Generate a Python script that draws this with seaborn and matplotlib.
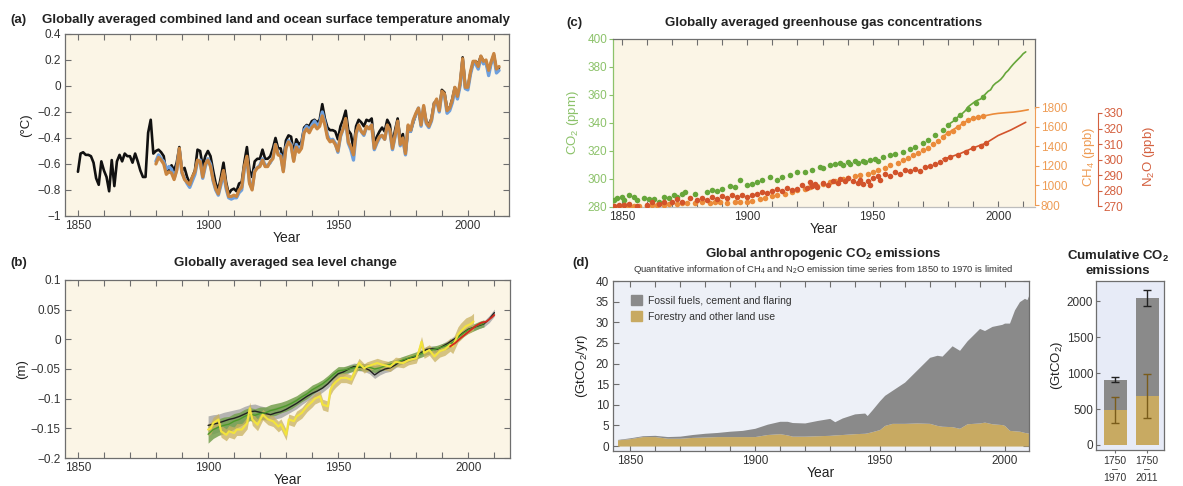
import numpy as np
import matplotlib
matplotlib.use("Agg")
import matplotlib.pyplot as plt
import seaborn as sns
from matplotlib.ticker import FixedLocator, MultipleLocator, FuncFormatter
from matplotlib.patches import Patch

sns.set_style("ticks")
plt.rcParams["font.family"] = ["Liberation Sans Narrow", "Liberation Sans", "DejaVu Sans"]
plt.rcParams["mathtext.fontset"] = "custom"
plt.rcParams["mathtext.rm"] = "Liberation Sans"
plt.rcParams["mathtext.bf"] = "Liberation Sans:bold"
plt.rcParams["axes.unicode_minus"] = True

# ---------------- (a) surface temperature anomaly (°C) ----------------
hadcrut_start, hadcrut_end = 1850, 2012
temp_hadcrut = [
    -0.66, -0.52, -0.51, -0.53, -0.53, -0.54, -0.59, -0.71, -0.76, -0.58,
    -0.65, -0.70, -0.81, -0.57, -0.77, -0.58, -0.53, -0.58, -0.52, -0.54,
    -0.54, -0.59, -0.52, -0.58, -0.65, -0.70, -0.70, -0.36, -0.26, -0.52,
    -0.50, -0.49, -0.51, -0.54, -0.67, -0.65, -0.61, -0.65, -0.59, -0.47,
    -0.65, -0.63, -0.70, -0.75, -0.70, -0.65, -0.49, -0.50, -0.62, -0.54,
    -0.50, -0.54, -0.65, -0.75, -0.80, -0.70, -0.59, -0.74, -0.83, -0.80,
    -0.79, -0.81, -0.75, -0.74, -0.59, -0.47, -0.65, -0.70, -0.58, -0.56,
    -0.56, -0.49, -0.56, -0.56, -0.54, -0.48, -0.40, -0.48, -0.48, -0.58,
    -0.42, -0.38, -0.39, -0.52, -0.41, -0.45, -0.43, -0.32, -0.30, -0.31,
    -0.27, -0.26, -0.28, -0.26, -0.14, -0.25, -0.32, -0.34, -0.34, -0.35,
    -0.41, -0.31, -0.26, -0.19, -0.34, -0.37, -0.48, -0.31, -0.26, -0.28,
    -0.31, -0.26, -0.27, -0.25, -0.44, -0.39, -0.35, -0.32, -0.35, -0.26,
    -0.30, -0.45, -0.34, -0.25, -0.41, -0.37, -0.52, -0.34, -0.35, -0.28,
    -0.22, -0.18, -0.30, -0.17, -0.27, -0.30, -0.25, -0.13, -0.12, -0.18,
    -0.03, -0.05, -0.17, -0.17, -0.10, -0.01, -0.08, 0.01, 0.22, 0.00,
    -0.01, 0.10, 0.18, 0.19, 0.17, 0.23, 0.19, 0.18, 0.10, 0.18,
    0.24, 0.12, 0.14,
]
noaa_start, noaa_end = 1880, 2012
temp_noaa = [
    -0.60, -0.55, -0.57, -0.60, -0.68, -0.66, -0.67, -0.72, -0.65, -0.48,
    -0.66, -0.72, -0.74, -0.76, -0.70, -0.66, -0.57, -0.58, -0.70, -0.60,
    -0.57, -0.62, -0.72, -0.79, -0.83, -0.74, -0.65, -0.77, -0.85, -0.85,
    -0.84, -0.85, -0.80, -0.78, -0.62, -0.54, -0.75, -0.80, -0.66, -0.63,
    -0.62, -0.57, -0.62, -0.62, -0.58, -0.56, -0.45, -0.53, -0.54, -0.66,
    -0.48, -0.43, -0.46, -0.58, -0.47, -0.51, -0.48, -0.36, -0.33, -0.36,
    -0.32, -0.30, -0.33, -0.31, -0.23, -0.30, -0.40, -0.43, -0.42, -0.45,
    -0.50, -0.38, -0.33, -0.25, -0.43, -0.47, -0.53, -0.36, -0.30, -0.35,
    -0.37, -0.31, -0.33, -0.30, -0.48, -0.43, -0.39, -0.38, -0.41, -0.30,
    -0.34, -0.48, -0.38, -0.27, -0.45, -0.40, -0.52, -0.30, -0.34, -0.26,
    -0.21, -0.17, -0.30, -0.15, -0.28, -0.31, -0.26, -0.14, -0.10, -0.19,
    -0.04, -0.06, -0.19, -0.17, -0.11, -0.01, -0.08, 0.02, 0.21, -0.01,
    -0.01, 0.11, 0.19, 0.19, 0.15, 0.23, 0.19, 0.20, 0.12, 0.19,
    0.25, 0.13, 0.15,
]
temp_giss = [
    -0.58, -0.53, -0.56, -0.58, -0.64, -0.62, -0.64, -0.71, -0.64, -0.49,
    -0.67, -0.71, -0.75, -0.78, -0.73, -0.68, -0.58, -0.57, -0.71, -0.62,
    -0.56, -0.60, -0.73, -0.80, -0.84, -0.76, -0.67, -0.79, -0.86, -0.87,
    -0.86, -0.86, -0.82, -0.80, -0.64, -0.56, -0.74, -0.79, -0.65, -0.63,
    -0.61, -0.56, -0.61, -0.61, -0.59, -0.55, -0.45, -0.52, -0.53, -0.65,
    -0.47, -0.42, -0.45, -0.57, -0.45, -0.50, -0.46, -0.34, -0.31, -0.34,
    -0.30, -0.27, -0.30, -0.29, -0.20, -0.28, -0.38, -0.42, -0.41, -0.44,
    -0.51, -0.39, -0.33, -0.26, -0.44, -0.49, -0.57, -0.37, -0.31, -0.35,
    -0.38, -0.32, -0.32, -0.30, -0.49, -0.44, -0.40, -0.38, -0.41, -0.31,
    -0.35, -0.49, -0.39, -0.28, -0.46, -0.41, -0.53, -0.31, -0.35, -0.27,
    -0.22, -0.17, -0.31, -0.16, -0.29, -0.32, -0.27, -0.15, -0.11, -0.20,
    -0.05, -0.07, -0.21, -0.19, -0.13, -0.03, -0.10, 0.00, 0.19, -0.02,
    -0.03, 0.09, 0.17, 0.17, 0.13, 0.22, 0.17, 0.18, 0.08, 0.18,
    0.23, 0.10, 0.12,
]

# ---------------- (b) sea level change (m) ----------------
sl_tide_years = list(range(1900, 2011, 2))
sl_tide = [
    -0.145, -0.143, -0.141, -0.138, -0.135, -0.133, -0.130, -0.126, -0.122, -0.121,
    -0.123, -0.125, -0.127, -0.124, -0.122, -0.118, -0.113, -0.108, -0.102, -0.096,
    -0.091, -0.087, -0.082, -0.075, -0.066, -0.058, -0.055, -0.050, -0.046, -0.047,
    -0.048, -0.052, -0.060, -0.054, -0.050, -0.048, -0.043, -0.037, -0.034, -0.031,
    -0.029, -0.022, -0.017, -0.016, -0.017, -0.012, -0.007, -0.001, 0.004, 0.011,
    0.017, 0.020, 0.023, 0.026, 0.034, 0.045,
]
sl_tide_unc = [
    0.016, 0.016, 0.015, 0.015, 0.014, 0.014, 0.013, 0.013, 0.012, 0.012,
    0.011, 0.011, 0.010, 0.010, 0.010, 0.009, 0.009, 0.009, 0.008, 0.008,
    0.008, 0.008, 0.007, 0.007, 0.007, 0.007, 0.007, 0.007, 0.006, 0.006,
    0.006, 0.006, 0.006, 0.006, 0.006, 0.006, 0.005, 0.005, 0.005, 0.005,
    0.005, 0.005, 0.005, 0.005, 0.005, 0.005, 0.005, 0.005, 0.005, 0.005,
    0.005, 0.005, 0.005, 0.005, 0.006, 0.006,
]
sl_recon_years = list(range(1900, 2007, 2))
sl_recon = [
    -0.160, -0.152, -0.148, -0.145, -0.143, -0.138, -0.135, -0.130, -0.126, -0.128,
    -0.125, -0.124, -0.120, -0.118, -0.115, -0.112, -0.108, -0.103, -0.097, -0.092,
    -0.085, -0.080, -0.075, -0.068, -0.060, -0.053, -0.052, -0.050, -0.048, -0.046,
    -0.047, -0.047, -0.050, -0.048, -0.045, -0.042, -0.040, -0.036, -0.033, -0.030,
    -0.027, -0.024, -0.020, -0.018, -0.016, -0.013, -0.010, -0.005, 0.003, 0.010,
    0.016, 0.020, 0.024, 0.027,
]
sl_recon_unc = [
    0.015, 0.015, 0.014, 0.014, 0.013, 0.013, 0.012, 0.012, 0.011, 0.011,
    0.011, 0.010, 0.010, 0.010, 0.009, 0.009, 0.009, 0.008, 0.008, 0.008,
    0.008, 0.007, 0.007, 0.007, 0.007, 0.007, 0.006, 0.006, 0.006, 0.006,
    0.006, 0.006, 0.006, 0.006, 0.006, 0.006, 0.006, 0.006, 0.006, 0.006,
    0.006, 0.006, 0.006, 0.006, 0.006, 0.006, 0.006, 0.006, 0.006, 0.006,
    0.006, 0.006, 0.006, 0.006,
]
sl_gauge_years = [
    1900, 1901, 1902, 1904, 1905, 1907, 1908, 1910, 1911, 1913,
    1915, 1916, 1917, 1919, 1921, 1923, 1925, 1927, 1928, 1930,
    1931, 1933, 1934, 1936, 1938, 1940, 1941, 1943, 1944, 1946,
    1947, 1948, 1949, 1951, 1953, 1955, 1956, 1958, 1960, 1961,
    1963, 1965, 1967, 1970, 1972, 1975, 1977, 1980, 1981, 1982,
    1983, 1985, 1987, 1989, 1991, 1993, 1994, 1996, 1997, 1999,
    2000, 2001, 2002,
]
sl_gauge = [
    -0.152, -0.150, -0.141, -0.135, -0.155, -0.161, -0.155, -0.158, -0.152, -0.152,
    -0.141, -0.116, -0.135, -0.144, -0.127, -0.135, -0.138, -0.147, -0.143, -0.161,
    -0.135, -0.138, -0.130, -0.124, -0.113, -0.105, -0.100, -0.096, -0.110, -0.113,
    -0.085, -0.077, -0.072, -0.065, -0.065, -0.068, -0.058, -0.040, -0.049, -0.046,
    -0.043, -0.040, -0.043, -0.046, -0.038, -0.040, -0.035, -0.032, -0.020, -0.004,
    -0.023, -0.018, -0.029, -0.020, -0.017, -0.009, -0.012, 0.008, 0.013, 0.022,
    0.024, 0.026, 0.030,
]
sl_gauge_unc = [
    0.010, 0.010, 0.010, 0.010, 0.010, 0.010, 0.010, 0.010, 0.010, 0.010,
    0.010, 0.010, 0.010, 0.010, 0.009, 0.009, 0.009, 0.009, 0.009, 0.009,
    0.009, 0.009, 0.009, 0.009, 0.009, 0.009, 0.009, 0.009, 0.009, 0.009,
    0.009, 0.009, 0.009, 0.008, 0.008, 0.008, 0.008, 0.008, 0.008, 0.008,
    0.008, 0.008, 0.008, 0.008, 0.008, 0.008, 0.008, 0.008, 0.008, 0.009,
    0.009, 0.009, 0.009, 0.010, 0.010, 0.011, 0.012, 0.013, 0.014, 0.014,
    0.014, 0.014, 0.014,
]
sl_sat_years = [1993, 1995, 1997, 1999, 2001, 2003, 2005, 2007, 2009, 2010]
sl_sat = [-0.012, -0.006, 0.002, 0.009, 0.016, 0.023, 0.028, 0.030, 0.037, 0.041]

# ---------------- (c) greenhouse gas concentrations ----------------
co2_core_years = [
    1847, 1848, 1850, 1851, 1853, 1855, 1856, 1859, 1861, 1863,
    1865, 1867, 1869, 1871, 1872, 1874, 1875, 1879, 1884, 1886,
    1888, 1890, 1893, 1895, 1897, 1900, 1902, 1904, 1906, 1909,
    1912, 1914, 1917, 1920, 1923, 1926, 1929, 1930, 1933, 1935,
    1937, 1938, 1940, 1941, 1943, 1944, 1946, 1947, 1949, 1951,
    1952, 1954, 1957, 1959, 1962, 1965, 1967, 1970, 1972, 1975,
    1978, 1980, 1983, 1985, 1988, 1991, 1994,
]
co2_core_ppm = [
    284.8, 286.7, 287.2, 284.8, 288.4, 287.2, 285.3, 286.5, 285.5, 285.5,
    283.6, 287.2, 286.7, 288.4, 287.2, 289.6, 290.8, 289.6, 290.8, 292.4,
    291.5, 293.2, 295.3, 294.4, 299.1, 295.6, 296.7, 297.9, 299.1, 301.5,
    299.1, 301.5, 302.7, 305.1, 305.1, 306.3, 308.7, 307.5, 309.9, 310.5,
    311.1, 310.2, 312.3, 311.0, 312.8, 311.6, 313.0, 312.0, 313.5, 314.0,
    312.8, 315.9, 317.1, 317.8, 319.5, 321.1, 323.1, 325.5, 327.8, 331.4,
    335.0, 338.5, 342.5, 345.5, 350.0, 354.5, 358.5,
]
co2_inst_years = list(range(1980, 2012))
co2_inst_ppm = [
    338.7, 339.9, 341.1, 342.8, 344.4, 345.9, 347.2, 348.9, 351.5, 352.9,
    354.2, 355.6, 356.4, 357.1, 358.8, 360.8, 362.6, 363.7, 366.7, 368.4,
    369.6, 371.1, 373.2, 375.8, 377.5, 379.8, 381.9, 383.8, 385.6, 387.4,
    389.5, 390.8,
]
ch4_core_years = [
    1847, 1849, 1851, 1853, 1855, 1857, 1860, 1862, 1864, 1867,
    1869, 1872, 1874, 1876, 1879, 1882, 1885, 1887, 1889, 1892,
    1895, 1897, 1900, 1902, 1905, 1907, 1910, 1912, 1915, 1918,
    1920, 1923, 1925, 1928, 1930, 1933, 1935, 1938, 1940, 1943,
    1945, 1948, 1950, 1952, 1955, 1957, 1960, 1962, 1964, 1966,
    1968, 1970, 1972, 1974, 1976, 1978, 1980, 1982, 1984, 1986,
    1988, 1990, 1992, 1994,
]
ch4_core_ppb = [
    790, 795, 800, 795, 790, 788, 795, 800, 798, 805,
    815, 812, 820, 825, 820, 830, 825, 832, 828, 825,
    835, 832, 830, 845, 858, 875, 890, 900, 910, 935,
    950, 965, 980, 995, 1010, 1030, 1045, 1065, 1080, 1095,
    1105, 1120, 1135, 1155, 1180, 1205, 1230, 1255, 1280, 1310,
    1335, 1360, 1385, 1420, 1455, 1495, 1530, 1560, 1600, 1640,
    1665, 1685, 1700, 1710,
]
ch4_inst_years = [1978, 1980, 1984, 1988, 1990, 1993, 1995, 1998, 2000, 2003, 2006, 2009, 2012]
ch4_inst_ppb = [1500, 1535, 1600, 1665, 1685, 1700, 1712, 1728, 1735, 1742, 1748, 1758, 1772]
n2o_core_years = [
    1847, 1849, 1851, 1853, 1856, 1860, 1862, 1865, 1867, 1870,
    1872, 1874, 1877, 1880, 1882, 1884, 1886, 1888, 1890, 1892,
    1894, 1896, 1898, 1900, 1902, 1904, 1906, 1908, 1910, 1912,
    1914, 1916, 1918, 1920, 1922, 1924, 1925, 1926, 1927, 1928,
    1930, 1932, 1934, 1936, 1937, 1939, 1940, 1942, 1944, 1945,
    1946, 1948, 1949, 1950, 1952, 1953, 1955, 1957, 1959, 1961,
    1963, 1965, 1967, 1969, 1971, 1973, 1975, 1977, 1979, 1981,
    1984, 1987, 1990, 1993, 1995,
]
n2o_core_ppb = [
    270.5, 271.0, 270.8, 271.5, 270.2, 271.0, 272.5, 271.8, 273.0, 272.5,
    274.5, 273.0, 275.5, 274.0, 275.5, 274.0, 276.0, 275.0, 276.5, 275.5,
    277.0, 276.0, 277.5, 276.0, 277.0, 278.0, 279.5, 278.5, 280.0, 281.0,
    280.0, 281.5, 280.5, 281.0, 283.5, 282.0, 285.5, 283.0, 284.5, 282.5,
    285.0, 284.0, 286.5, 285.0, 287.5, 286.0, 288.0, 286.5, 285.0, 287.0,
    284.5, 286.5, 284.0, 288.0, 289.5, 287.0, 290.5, 289.5, 292.0, 291.0,
    293.5, 292.5, 294.0, 293.0, 295.0, 296.0, 297.5, 298.5, 300.5, 301.5,
    303.0, 305.0, 307.5, 309.0, 310.5,
]
n2o_inst_years = [1978, 1980, 1985, 1990, 1995, 2000, 2005, 2011]
n2o_inst_ppb = [300.5, 301.2, 304.0, 307.5, 310.5, 315.5, 319.0, 324.0]

# ---------------- (d) anthropogenic CO2 emissions (GtCO2/yr) ----------------
emis_years = [
    1845, 1850, 1855, 1860, 1865, 1870, 1875, 1880, 1885, 1890,
    1895, 1900, 1905, 1910, 1913, 1915, 1920, 1925, 1930, 1932,
    1935, 1940, 1944, 1945, 1947, 1950, 1952, 1955, 1960, 1965,
    1970, 1973, 1975, 1979, 1982, 1985, 1990, 1992, 1995, 1999,
    2000, 2002, 2004, 2006, 2008, 2009, 2010, 2011,
]
emis_land = [
    1.5, 1.8, 2.3, 2.3, 1.9, 1.9, 2.1, 2.2, 2.3, 2.3,
    2.3, 2.3, 2.8, 3.0, 2.7, 2.4, 2.4, 2.5, 2.6, 2.7,
    2.8, 3.0, 3.1, 3.2, 3.5, 4.0, 5.0, 5.5, 5.5, 5.6,
    5.5, 5.0, 4.8, 4.7, 4.3, 5.4, 5.6, 5.8, 5.4, 5.2,
    5.0, 3.8, 3.7, 3.6, 3.3, 3.2, 3.1, 3.0,
]
emis_fossil = [
    0.1, 0.2, 0.2, 0.3, 0.4, 0.5, 0.7, 0.9, 1.0, 1.3,
    1.5, 2.0, 2.5, 3.0, 3.3, 3.3, 3.2, 3.7, 4.1, 3.2,
    4.0, 4.8, 4.9, 4.2, 5.3, 7.0, 7.3, 8.0, 10.0, 12.9,
    16.0, 17.0, 17.0, 19.6, 18.9, 20.1, 22.9, 22.2, 23.6, 24.3,
    24.8, 26.0, 29.3, 31.4, 32.5, 32.3, 33.9, 35.0,
]
cum_periods = ["1750\n\u2013\n1970", "1750\n\u2013\n2011"]
cum_total = [910, 2040]
cum_total_err = [35, 110]
cum_land = [490, 680]
cum_land_err = [180, 300]

# ---------------- colours ----------------
CREAM = "#FBF5E6"
BLUEGREY = "#EDF0F7"
SPINE = "#6E6E6E"
TICKTXT = "#333333"
GREEN = "#66A63A"
GREEN_TXT = "#8CC26A"
ORANGE = "#EB8B3A"
ORANGE_TXT = "#EE9C55"
RED = "#D2532B"
RED_TXT = "#D4603F"
GREY_FILL = "#8A8A8A"
TAN_FILL = "#C8AA62"
TITLE_SIZE = 9.5

fig = plt.figure(figsize=(11.83, 4.86), dpi=100)


def minus_fmt(v, _pos):
    v = round(v, 6)
    if abs(v) < 1e-9:
        return "0"
    return f"{v:g}".replace("-", "\u2212")


def style_year_axis(ax, xlim):
    ax.set_xlim(*xlim)
    ax.xaxis.set_major_locator(FixedLocator([1850, 1900, 1950, 2000]))
    ax.xaxis.set_minor_locator(MultipleLocator(10))
    ax.tick_params(axis="x", which="both", direction="in", top=True, bottom=True,
                   length=4, width=0.8, color=SPINE, labelsize=8.5,
                   labelcolor=TICKTXT, pad=3)
    ax.set_xlabel("Year", fontsize=10, color="#222222", labelpad=-1)


def frame(ax, color=SPINE):
    for s in ax.spines.values():
        s.set_color(color)
        s.set_linewidth(0.9)
        s.set_visible(True)


# ---------------- panel (a) ----------------
ax_a = fig.add_axes([0.0549, 0.5556, 0.3753, 0.3745], facecolor=CREAM)
yrs_had = np.arange(hadcrut_start, hadcrut_end + 1)
yrs_noaa = np.arange(noaa_start, noaa_end + 1)
sns.lineplot(x=yrs_had, y=temp_hadcrut, color="#111111", lw=1.9, ax=ax_a, zorder=3)
sns.lineplot(x=yrs_noaa, y=temp_giss, color="#6E9FDC", lw=2.4, ax=ax_a, zorder=4)
sns.lineplot(x=yrs_noaa, y=temp_noaa, color="#C98540", lw=2.3, ax=ax_a, zorder=5)
style_year_axis(ax_a, (1845, 2015.8))
ax_a.set_ylim(-1.0, 0.4)
ax_a.yaxis.set_major_locator(FixedLocator([-1.0, -0.8, -0.6, -0.4, -0.2, 0.0, 0.2, 0.4]))
ax_a.yaxis.set_major_formatter(FuncFormatter(minus_fmt))
ax_a.tick_params(axis="y", direction="in", left=True, right=True, length=4, width=0.8,
                 color=SPINE, labelsize=8.5, labelcolor=TICKTXT, pad=3)
ax_a.set_ylabel("(°C)", fontsize=9.5, color="#222222", labelpad=4)
frame(ax_a)
fig.text(0.0085, 0.959, "(a)", fontsize=9.5, fontweight="bold", color="#222222", va="center")
fig.text(0.0355, 0.959, "Globally averaged combined land and ocean surface temperature anomaly",
         fontsize=TITLE_SIZE, fontweight="bold", color="#222222", va="center", ha="left")

# ---------------- panel (b) ----------------
ax_b = fig.add_axes([0.0549, 0.0576, 0.3762, 0.3663], facecolor=CREAM)
t_lo = np.array(sl_tide) - np.array(sl_tide_unc)
t_hi = np.array(sl_tide) + np.array(sl_tide_unc)
r_lo = np.array(sl_recon) - np.array(sl_recon_unc)
r_hi = np.array(sl_recon) + np.array(sl_recon_unc)
g_lo = np.array(sl_gauge) - np.array(sl_gauge_unc)
g_hi = np.array(sl_gauge) + np.array(sl_gauge_unc)
ax_b.fill_between(sl_tide_years, t_lo, t_hi, color="#A9A9A9", alpha=0.85, lw=0, zorder=1)
ax_b.fill_between(sl_recon_years, r_lo, r_hi, color="#75A04F", alpha=0.85, lw=0, zorder=2)
ax_b.fill_between(sl_gauge_years, g_lo, g_hi, color="#C9B160", alpha=0.75, lw=0, zorder=3)
sns.lineplot(x=sl_tide_years, y=sl_tide, color="#222222", lw=1.0, ax=ax_b, zorder=4)
sns.lineplot(x=sl_recon_years, y=sl_recon, color="#4C9A2A", lw=1.0, ax=ax_b, zorder=5)
sns.lineplot(x=sl_gauge_years, y=sl_gauge, color="#F3E43C", lw=1.5, ax=ax_b, zorder=6)
sns.lineplot(x=sl_sat_years, y=sl_sat, color="#D42A1E", lw=1.3, ax=ax_b, zorder=7)
style_year_axis(ax_b, (1845, 2016))
ax_b.set_ylim(-0.2, 0.1)
ax_b.yaxis.set_major_locator(FixedLocator([-0.2, -0.15, -0.1, -0.05, 0.0, 0.05, 0.1]))
ax_b.yaxis.set_major_formatter(FuncFormatter(minus_fmt))
ax_b.tick_params(axis="y", direction="in", left=True, right=True, length=4, width=0.8,
                 color=SPINE, labelsize=8.5, labelcolor=TICKTXT, pad=3)
ax_b.set_ylabel("(m)", fontsize=9.5, color="#222222", labelpad=2)
frame(ax_b)
fig.text(0.0085, 0.459, "(b)", fontsize=9.5, fontweight="bold", color="#222222", va="center")
fig.text(0.241, 0.459, "Globally averaged sea level change", fontsize=TITLE_SIZE,
         fontweight="bold", color="#222222", va="center", ha="center")

# ---------------- panel (c) ----------------
ax_c = fig.add_axes([0.5182, 0.5741, 0.3567, 0.3457], facecolor=CREAM)
ax_ch4 = ax_c.twinx()
ax_n2o = ax_c.twinx()
sns.lineplot(x=co2_inst_years, y=co2_inst_ppm, color=GREEN, lw=1.2, ax=ax_c, zorder=2)
sns.scatterplot(x=co2_core_years, y=co2_core_ppm, color=GREEN, s=16, linewidth=0, ax=ax_c, zorder=3)
sns.lineplot(x=ch4_inst_years, y=ch4_inst_ppb, color=ORANGE, lw=1.2, ax=ax_ch4, zorder=2)
sns.scatterplot(x=ch4_core_years, y=ch4_core_ppb, color=ORANGE, s=16, linewidth=0, ax=ax_ch4, zorder=3)
sns.lineplot(x=n2o_inst_years, y=n2o_inst_ppb, color=RED, lw=1.2, ax=ax_n2o, zorder=2)
sns.scatterplot(x=n2o_core_years, y=n2o_core_ppb, color=RED, s=16, linewidth=0, ax=ax_n2o, zorder=3)

style_year_axis(ax_c, (1846.5, 2014.7))
ax_c.set_ylim(280, 400)
ax_c.yaxis.set_major_locator(MultipleLocator(20))
ax_c.tick_params(axis="y", direction="out", left=True, right=False, length=3, width=0.8,
                 color=GREEN_TXT, labelsize=8.5, labelcolor=GREEN_TXT, pad=1)
ax_c.set_ylabel("CO$_2$ (ppm)", fontsize=9.5, color=GREEN_TXT, labelpad=5)
frame(ax_c)
ax_c.spines["left"].set_color(GREEN_TXT)
ax_c.spines["bottom"].set_color("#BDBDBD")
ax_c.spines["right"].set_bounds(351, 400)

ax_ch4.set_ylim(780, 2494)
ax_ch4.yaxis.set_major_locator(FixedLocator([800, 1000, 1200, 1400, 1600, 1800]))
for s in ["left", "top", "bottom"]:
    ax_ch4.spines[s].set_visible(False)
ax_ch4.spines["right"].set_color(ORANGE_TXT)
ax_ch4.spines["right"].set_bounds(800, 1800)
ax_ch4.tick_params(axis="y", direction="out", length=3, width=0.8, color=ORANGE_TXT,
                   labelsize=8.5, labelcolor=ORANGE_TXT, pad=1)
ax_ch4.set_ylabel("CH$_4$ (ppb)", fontsize=9.5, color=ORANGE_TXT, labelpad=3)
ax_ch4.yaxis.set_label_coords(1.11, 0.3)

ax_n2o.set_ylim(269.6, 377.5)
ax_n2o.spines["right"].set_position(("outward", 45))
for s in ["left", "top", "bottom"]:
    ax_n2o.spines[s].set_visible(False)
ax_n2o.spines["right"].set_color(RED_TXT)
ax_n2o.spines["right"].set_bounds(270, 330)
ax_n2o.yaxis.set_major_locator(FixedLocator([270, 280, 290, 300, 310, 320, 330]))
ax_n2o.tick_params(axis="y", direction="out", length=3, width=0.8, color=RED_TXT,
                   labelsize=8.5, labelcolor=RED_TXT, pad=1)
ax_n2o.set_ylabel("N$_2$O (ppb)", fontsize=9.5, color=RED_TXT)
ax_n2o.yaxis.set_label_coords(1.25, 0.3)

fig.text(0.4785, 0.953, "(c)", fontsize=9.5, fontweight="bold", color="#222222", va="center")
fig.text(0.696, 0.953, "Globally averaged greenhouse gas concentrations", fontsize=TITLE_SIZE,
         fontweight="bold", color="#222222", va="center", ha="center")

# ---------------- panel (d) ----------------
ax_d = fig.add_axes([0.5182, 0.072, 0.3516, 0.3498], facecolor=BLUEGREY)
ax_d.stackplot(emis_years, emis_land, emis_fossil, colors=[TAN_FILL, GREY_FILL], lw=0)
style_year_axis(ax_d, (1843.2, 2009.8))
ax_d.set_ylim(-1.2, 40)
ax_d.yaxis.set_major_locator(MultipleLocator(5))
ax_d.tick_params(axis="y", direction="in", left=True, right=True, length=4, width=0.8,
                 color=SPINE, labelsize=8.5, labelcolor=TICKTXT, pad=3)
ax_d.set_ylabel("(GtCO$_2$/yr)", fontsize=9.5, color="#222222", labelpad=4)
frame(ax_d)
ax_d.legend(handles=[Patch(color=GREY_FILL, label="Fossil fuels, cement and flaring"),
                     Patch(color=TAN_FILL, label="Forestry and other land use")],
            loc="upper left", bbox_to_anchor=(0.02, 0.97), frameon=False, fontsize=7.5,
            handlelength=1.1, handleheight=1.1, handletextpad=0.6, labelspacing=0.5,
            labelcolor="#333333")
fig.text(0.4835, 0.459, "(d)", fontsize=9.5, fontweight="bold", color="#222222", va="center")
fig.text(0.696, 0.477, r"Global anthropogenic CO$_\mathbf{2}$ emissions", fontsize=TITLE_SIZE,
         fontweight="bold", color="#222222", va="center", ha="center")
fig.text(0.696, 0.4465,
         "Quantitative information of CH$_4$ and N$_2$O emission time series from 1850 to 1970 is limited",
         fontsize=6.8, color="#333333", va="center", ha="center")

# ---------------- cumulative emissions ----------------
ax_e = fig.add_axes([0.9265, 0.0741, 0.0575, 0.3477], facecolor="#E7EBF7")
sns.barplot(x=cum_periods, y=cum_total, color=GREY_FILL, saturation=1, width=0.72,
            linewidth=0, ax=ax_e)
sns.barplot(x=cum_periods, y=cum_land, color=TAN_FILL, saturation=1, width=0.72,
            linewidth=0, ax=ax_e)
bar_pos = ax_e.get_xticks()
ax_e.errorbar(bar_pos, cum_total, yerr=cum_total_err, fmt="none", ecolor="#222222",
              elinewidth=1.0, capsize=3, capthick=1.0, zorder=5)
ax_e.errorbar(bar_pos, cum_land, yerr=cum_land_err, fmt="none", ecolor="#7A5C1A",
              elinewidth=1.0, capsize=3, capthick=1.0, zorder=5)
ax_e.set_xlim(-0.594, 1.53)
ax_e.set_ylim(-70, 2280)
ax_e.yaxis.set_major_locator(MultipleLocator(500))
ax_e.tick_params(axis="y", direction="in", left=True, length=3, width=0.8, color=SPINE,
                 labelsize=8.5, labelcolor=TICKTXT, pad=2)
ax_e.tick_params(axis="x", direction="out", length=2, width=0.8, color=SPINE,
                 labelsize=7.5, labelcolor=TICKTXT, pad=2)
for lbl in ax_e.get_xticklabels():
    lbl.set_linespacing(0.85)
ax_e.set_ylabel("(GtCO$_2$)", fontsize=9.5, color="#222222", labelpad=1)
ax_e.set_xlabel("")
frame(ax_e)
fig.text(0.945, 0.459, "Cumulative CO$_\\mathbf{2}$\nemissions", fontsize=TITLE_SIZE,
         fontweight="bold", color="#222222", va="center", ha="center", linespacing=1.1)

fig.savefig("out.png", dpi=100)
